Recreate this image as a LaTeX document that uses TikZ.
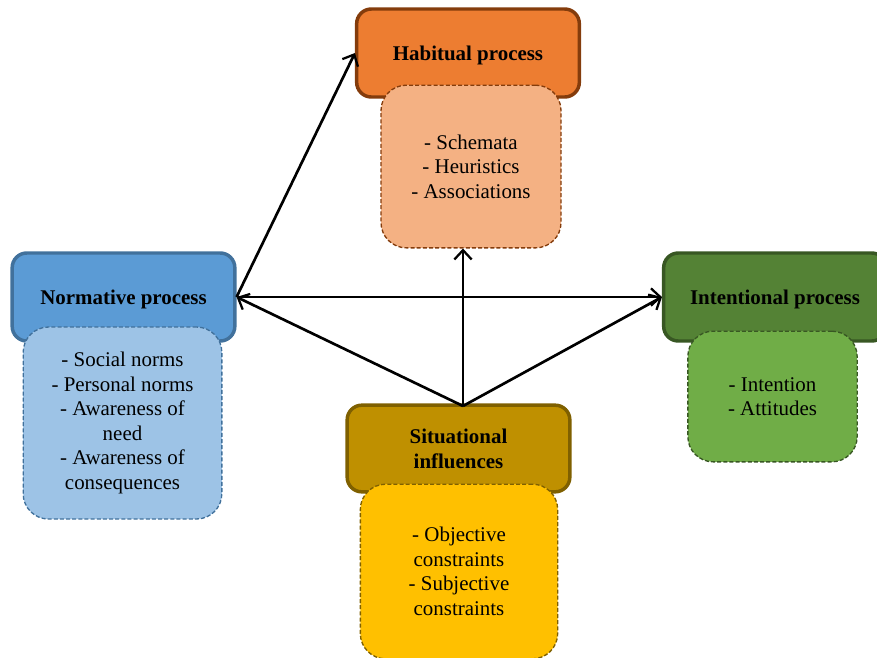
\documentclass[tikz,border=0pt]{standalone}
\usepackage{fontspec}
\setmainfont{Liberation Serif}
\usetikzlibrary{arrows.meta}

\definecolor{habfill}{HTML}{ED7D31}
\definecolor{habline}{HTML}{843C0C}
\definecolor{habsub}{HTML}{F4B183}
\definecolor{normfill}{HTML}{5B9BD5}
\definecolor{normline}{HTML}{41719C}
\definecolor{normsub}{HTML}{9DC3E6}
\definecolor{intfill}{HTML}{548235}
\definecolor{intline}{HTML}{385723}
\definecolor{intsub}{HTML}{70AD47}
\definecolor{sitfill}{HTML}{BF9000}
\definecolor{sitline}{HTML}{7F6000}
\definecolor{sitsub}{HTML}{FFC000}

\begin{document}
\begin{tikzpicture}[x=0.75pt,y=-0.75pt]
\tikzset{
  headbox/.style={rectangle,rounded corners=11pt,line width=2.6pt,inner sep=2pt,align=center,
    text depth=0pt,font=\fontsize{15.7}{18.4}\selectfont\bfseries},
  listbox/.style={rectangle,rounded corners=19pt,line width=1pt,dash pattern=on 3pt off 1.6pt,
    inner sep=2pt,align=center,font=\fontsize{15.7}{18.4}\selectfont},
  link/.style={-{Straight Barb[length=7pt,width=13pt,line width=1.7pt]},line width=2pt}
}
\useasboundingbox (0,0) rectangle (877,657);
\clip (0,0) rectangle (877,657);
\node[headbox,fill=habfill,draw=habline,minimum width=167pt,minimum height=66pt] (n_hab) at (468,53) {Habitual process};
\node[headbox,fill=normfill,draw=normline,minimum width=167pt,minimum height=66pt] (n_norm) at (123.5,297) {Normative process};
\node[headbox,fill=intfill,draw=intline,minimum width=167pt,minimum height=66pt] (n_int) at (775,297) {Intentional process};
\node[headbox,fill=sitfill,draw=sitline,minimum width=167pt,minimum height=65pt] (n_sit) at (458.5,448.5) {Situational\\influences};
\node[listbox,fill=habsub,draw=habline,minimum width=135pt,minimum height=122pt] (n_habd) at (471,166.5) {- Schemata\\- Heuristics\\- Associations};
\node[listbox,fill=normsub,draw=normline,minimum width=149pt,minimum height=144pt] (n_normd) at (122.5,423) {- Social norms\\- Personal norms\\- Awareness of\\need\\- Awareness of\\consequences};
\node[listbox,fill=intsub,draw=intline,minimum width=127pt,minimum height=98pt] (n_intd) at (772.5,396.5) {- Intention\\- Attitudes};
\node[listbox,fill=sitsub,draw=sitline,minimum width=148pt,minimum height=131pt] (n_sitd) at (459,571.5) {- Objective\\constraints\\- Subjective\\constraints};
\coordinate (c_sit) at (463,406);
\draw[link] (n_norm.east) -- (n_hab.west);
\draw[link] (n_norm.east) -- (n_int.west);
\draw[link] (c_sit) -- (n_norm.east);
\draw[link] (c_sit) -- (n_int.west);
\draw[link] (c_sit) -- (c_sit |- n_habd.south);
\end{tikzpicture}
\end{document}
